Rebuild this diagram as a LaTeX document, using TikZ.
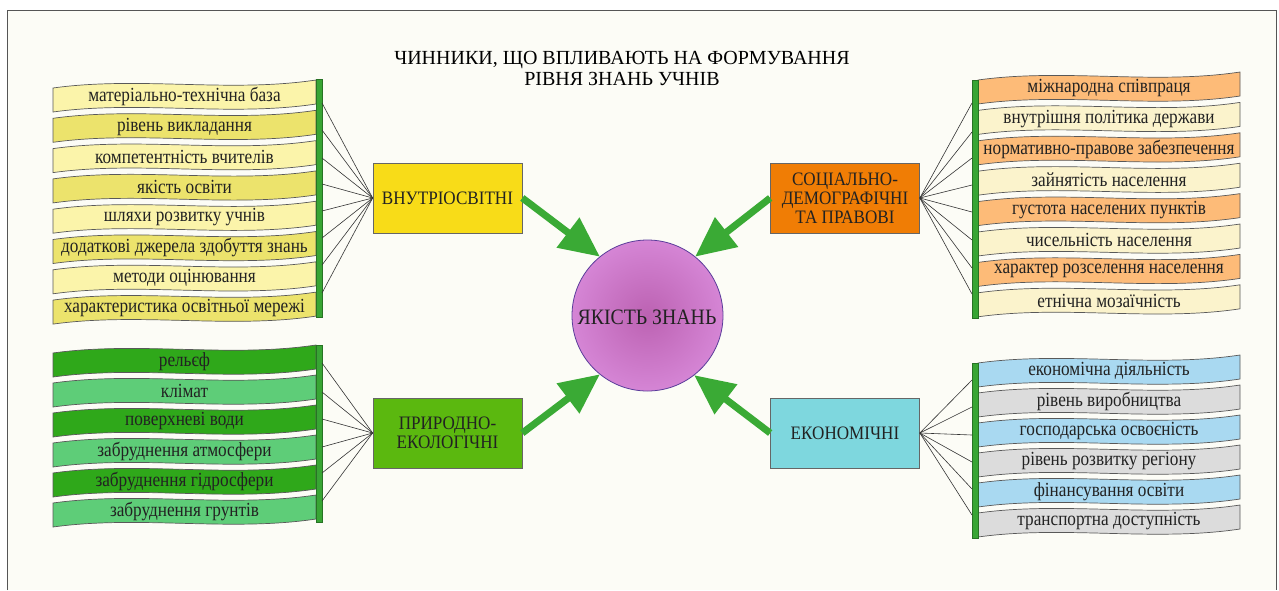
\documentclass[tikz,border=0pt]{standalone}
\usepackage{fontspec}
\setmainfont{Liberation Serif}
\newfontfamily\bannerfont[FakeStretch=0.86]{Liberation Serif}
\newfontfamily\boxfont[FakeStretch=0.9]{Liberation Serif}
\usetikzlibrary{arrows.meta}
\definecolor{bgcream}{HTML}{FCFCF6}
\definecolor{framegray}{HTML}{555555}
\definecolor{ylight}{HTML}{FBF4AA}
\definecolor{ydark}{HTML}{ECE36C}
\definecolor{orlight}{HTML}{FDBB78}
\definecolor{crlight}{HTML}{FBF3CC}
\definecolor{gdark}{HTML}{2FA81A}
\definecolor{glight}{HTML}{5ECD78}
\definecolor{blight}{HTML}{A9D9F1}
\definecolor{grlight}{HTML}{DCDCDC}
\definecolor{barg}{HTML}{38A534}
\definecolor{arrowg}{HTML}{3AAA35}
\definecolor{boxy}{HTML}{F8DC18}
\definecolor{boxo}{HTML}{F07D05}
\definecolor{boxg}{HTML}{5BB80F}
\definecolor{boxc}{HTML}{7ED7DE}
\definecolor{purin}{HTML}{BC62B2}
\definecolor{purout}{HTML}{D585D5}
\definecolor{purline}{HTML}{5A3C9A}
\definecolor{txt}{HTML}{222222}
\tikzset{
  bannerline/.style={draw=black!65, line width=0.7pt},
  bannertext/.style={text=txt, font=\bannerfont\fontsize{20}{22}\selectfont, inner sep=0pt},
  barstyle/.style={fill=barg, draw=barg!70!black, line width=0.6pt},
  factorbox/.style={draw=black!60, line width=0.7pt, minimum width=149pt, minimum height=70pt,
    text=txt, align=center, font=\boxfont\fontsize{19}{19}\selectfont, inner sep=0pt},
  conn/.style={draw=black!80, line width=0.6pt},
  bigarrow/.style={draw=arrowg, line width=7pt, -{Triangle[length=40pt,width=36pt]}},
  titletext/.style={text=black, align=center, font=\fontsize{20}{21}\selectfont, inner sep=0pt}
}
\newcommand\wavebanner[6]{%
  \begin{scope}[shift={(#1,#2)}]
    \filldraw[bannerline, fill=#4] (0,0) .. controls ({0.33*#3},-12) and ({0.67*#3},5) .. (#3,-8)
      -- (#3,16) .. controls ({0.67*#3},29) and ({0.33*#3},12) .. (0,24) -- cycle;
    \node[bannertext] (#5) at ({0.5*#3},8.3) {#6};
  \end{scope}}
\begin{document}
\begin{tikzpicture}[x=1pt,y=-1pt]
\useasboundingbox (0,0) rectangle (1279,590);
\fill[white] (0,0) rectangle (1279,590);
\fill[bgcream] (7,10) rectangle (1276,590);
\draw[framegray, line width=1pt] (7,590) -- (7,10) -- (1276,10) -- (1276,590);

% title
\node[titletext] (title) at (622,68) {ЧИННИКИ, ЩО ВПЛИВАЮТЬ НА ФОРМУВАННЯ\\РІВНЯ ЗНАНЬ УЧНІВ};

% central circle
\node[circle, minimum size=151pt, inner sep=0pt, inner color=purin, outer color=purout] (q) at (647.5,315.5) {};

% factor boxes
\node[factorbox, fill=boxy] (vn) at (447.5,198) {ВНУТРІОСВІТНІ};
\node[factorbox, fill=boxo] (sd) at (845,198) {СОЦІАЛЬНО-\\ДЕМОГРАФІЧНІ\\ТА ПРАВОВІ};
\node[factorbox, fill=boxg] (pe) at (447.5,433) {ПРИРОДНО-\\ЕКОЛОГІЧНІ};
\node[factorbox, fill=boxc] (ek) at (845,433) {ЕКОНОМІЧНІ};

\draw[bigarrow] (vn.east) -- (q.129);
\draw[bigarrow] (sd.west) -- (q.51);
\draw[bigarrow] (pe.east) -- (q.231.5);
\draw[bigarrow] (ek.west) -- (q.308.5);

\draw[purline, line width=0.8pt] (q) circle (75.5);
\node[text=txt, font=\boxfont\fontsize{22}{22}\selectfont] (qt) at (647,317) {ЯКІСТЬ ЗНАНЬ};

% left-top banners
\wavebanner{53}{88}{263}{ylight}{lt1}{матеріально-технічна база}
\wavebanner{53}{118.3}{263}{ydark}{lt2}{рівень викладання}
\wavebanner{53}{148.6}{263}{ylight}{lt3}{компетентність вчителів}
\wavebanner{53}{178.9}{263}{ydark}{lt4}{якість освіти}
\wavebanner{53}{209.2}{263}{ylight}{lt5}{шляхи розвитку учнів}
\wavebanner{53}{239.5}{263}{ydark}{lt6}{додаткові джерела здобуття знань}
\wavebanner{53}{269.8}{263}{ylight}{lt7}{методи оцінювання}
\wavebanner{53}{300.1}{263}{ydark}{lt8}{характеристика освітньої мережі}
\filldraw[barstyle] (316,79) rectangle (322,317);

% right-top banners
\wavebanner{978}{80}{262}{orlight}{rt1}{міжнародна співпраця}
\wavebanner{978}{110.4}{262}{crlight}{rt2}{внутрішня політика держави}
\wavebanner{978}{140.8}{262}{orlight}{rt3}{нормативно-правове забезпечення}
\wavebanner{978}{171.2}{262}{crlight}{rt4}{зайнятість населення}
\wavebanner{978}{201.6}{262}{orlight}{rt5}{густота населених пунктів}
\wavebanner{978}{232}{262}{crlight}{rt6}{чисельність населення}
\wavebanner{978}{262.4}{262}{orlight}{rt7}{характер розселення населення}
\wavebanner{978}{292.8}{262}{crlight}{rt8}{етнічна мозаїчність}
\filldraw[barstyle] (972,80) rectangle (978,318);

% left-bottom banners
\wavebanner{53}{353}{263}{gdark}{lb1}{рельєф}
\wavebanner{53}{383}{263}{glight}{lb2}{клімат}
\wavebanner{53}{413}{263}{gdark}{lb3}{поверхневі води}
\wavebanner{53}{443}{263}{glight}{lb4}{забруднення атмосфери}
\wavebanner{53}{473}{263}{gdark}{lb5}{забруднення гідросфери}
\wavebanner{53}{503}{263}{glight}{lb6}{забруднення грунтів}
\filldraw[barstyle] (316,345) rectangle (322,522);

% right-bottom banners
\wavebanner{978}{363}{262}{blight}{rb1}{економічна діяльність}
\wavebanner{978}{393}{262}{grlight}{rb2}{рівень виробництва}
\wavebanner{978}{423}{262}{blight}{rb3}{господарська освоєність}
\wavebanner{978}{453}{262}{grlight}{rb4}{рівень розвитку регіону}
\wavebanner{978}{483}{262}{blight}{rb5}{фінансування освіти}
\wavebanner{978}{513}{262}{grlight}{rb6}{транспортна доступність}
\filldraw[barstyle] (972,363) rectangle (978,538);

% connector end points on the bars
\foreach \i/\y in {1/103,2/130,3/158,4/184,5/211,6/238,7/265,8/293}{
  \coordinate (ltc\i) at (322,\y);
  \draw[conn] (vn.west) -- (ltc\i);}
\foreach \i/\y in {1/103,2/132,3/158,4/185,5/212,6/240,7/268,8/294}{
  \coordinate (rtc\i) at (972,\y);
  \draw[conn] (sd.east) -- (rtc\i);}
\foreach \i/\y in {1/363,2/392,3/419,4/447,5/473,6/501}{
  \coordinate (lbc\i) at (322,\y);
  \draw[conn] (pe.west) -- (lbc\i);}
\foreach \i/\y in {1/380,2/407,3/435,4/462,5/489,6/515}{
  \coordinate (rbc\i) at (972,\y);
  \draw[conn] (ek.east) -- (rbc\i);}
\end{tikzpicture}
\end{document}
